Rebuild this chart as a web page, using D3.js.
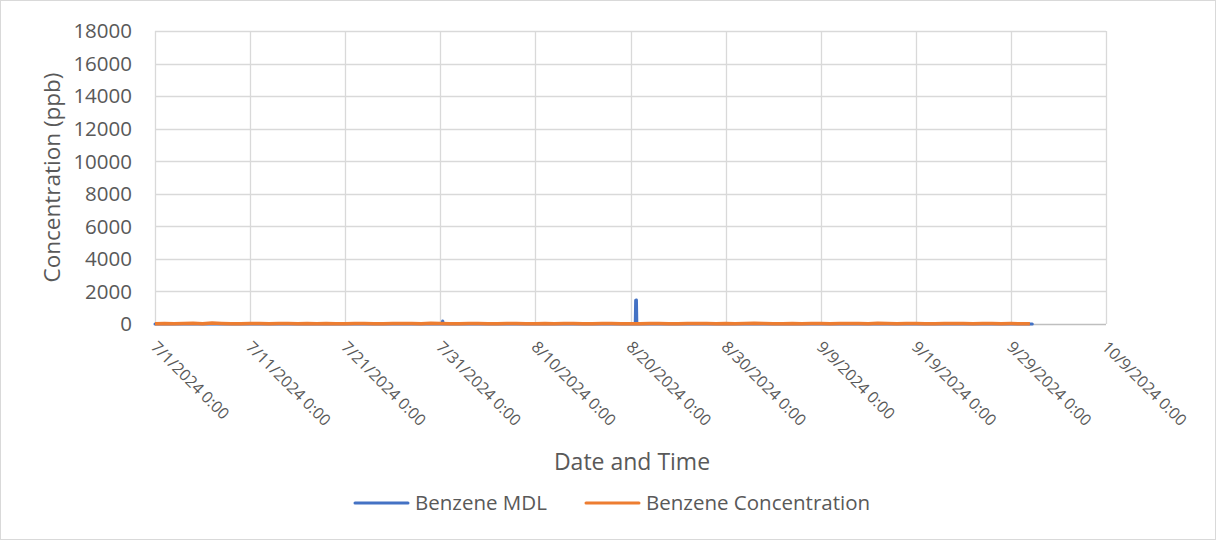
<!DOCTYPE html>
<html>
<head>
<meta charset="utf-8">
<script src="https://cdn.jsdelivr.net/npm/d3@7"></script>
<style>
  body { margin: 0; background: #fff; }
  svg { display: block; font-family: "Open Sans", Lato, sans-serif; }
</style>
</head>
<body>
<svg id="chart" width="1216" height="540"></svg>
<script>
// ---- data ----
const yTicks = [0, 2000, 4000, 6000, 8000, 10000, 12000, 14000, 16000, 18000];
const xTickDates = ["2024-07-01", "2024-07-11", "2024-07-21", "2024-07-31", "2024-08-10",
  "2024-08-20", "2024-08-30", "2024-09-09", "2024-09-19", "2024-09-29", "2024-10-09"];
const xTickLabels = ["7/1/2024 0:00", "7/11/2024 0:00", "7/21/2024 0:00", "7/31/2024 0:00",
  "8/10/2024 0:00", "8/20/2024 0:00", "8/30/2024 0:00", "9/9/2024 0:00", "9/19/2024 0:00",
  "9/29/2024 0:00", "10/9/2024 0:00"];
const seriesNames = ["Benzene MDL", "Benzene Concentration"];

// Benzene MDL (ppb): mostly low, small blip 7/31, spike 8/20
const mdlTimes = ["2024-07-01 00:00", "2024-07-31 04:00", "2024-07-31 06:00", "2024-07-31 08:00",
  "2024-08-20 12:00", "2024-08-20 13:00", "2024-08-20 15:00", "2024-08-20 16:00",
  "2024-10-01 06:00"];
const mdlValues = [5, 5, 190, 5, 5, 1460, 1470, 5, 5];

// Benzene Concentration (ppb), daily readings 7/1 - 10/1
const concStart = "2024-07-01 00:00";
const concValues = [12, 30, 18, 25, 40, 22, 60, 35, 20, 15, 28, 33, 19, 24, 31, 17, 26, 22, 30, 18,
  21, 27, 35, 20, 16, 29, 38, 24, 19, 45, 30, 22, 18, 26, 34, 21, 17, 25, 31, 20,
  23, 28, 19, 35, 27, 16, 22, 30, 25, 18, 14, 20, 26, 33, 21, 17, 29, 36, 24, 19,
  31, 22, 27, 40, 25, 18, 23, 30, 21, 26, 34, 20, 28, 37, 24, 19, 45, 30, 22, 26,
  33, 21, 18, 29, 35, 24, 20, 27, 31, 22, 25, 19, 15];

// ---- chart ----
const svg = d3.select("#chart");
const parse = d3.timeParse("%Y-%m-%d %H:%M");
const parseDay = d3.timeParse("%Y-%m-%d");
const W = 1216, H = 540;
const m = { left: 155, right: 1106, top: 31, bottom: 324 };
const textColor = "#595959";

svg.append("rect").attr("x", 0.5).attr("y", 0.5).attr("width", W - 1).attr("height", H - 1)
  .attr("fill", "#fff").attr("stroke", "#d9d9d9");

const x = d3.scaleTime()
  .domain([parseDay(xTickDates[0]), parseDay(xTickDates[xTickDates.length - 1])])
  .range([m.left, m.right]);
const y = d3.scaleLinear().domain([0, 18000]).range([m.bottom, m.top]);

// gridlines
const g = svg.append("g");
g.selectAll("line.h").data(yTicks.slice(1)).join("line")
  .attr("x1", m.left).attr("x2", m.right)
  .attr("y1", d => Math.round(y(d)) + 0.5).attr("y2", d => Math.round(y(d)) + 0.5)
  .attr("stroke", "#d9d9d9").attr("stroke-width", 1.3);
g.selectAll("line.v").data(xTickDates).join("line")
  .attr("x1", d => Math.round(x(parseDay(d))) + 0.5).attr("x2", d => Math.round(x(parseDay(d))) + 0.5)
  .attr("y1", m.top).attr("y2", m.bottom)
  .attr("stroke", "#d9d9d9").attr("stroke-width", 1.3);
// bottom axis line
g.append("line").attr("x1", m.left).attr("x2", m.right)
  .attr("y1", m.bottom + 0.5).attr("y2", m.bottom + 0.5)
  .attr("stroke", "#bfbfbf").attr("stroke-width", 1.3);

// y tick labels
svg.append("g").selectAll("text").data(yTicks).join("text")
  .attr("x", 132).attr("y", d => y(d)).attr("dy", "0.36em")
  .attr("text-anchor", "end").attr("fill", textColor).attr("font-size", 20.5)
  .text(d => d);

// x tick labels
svg.append("g").selectAll("text").data(xTickDates).join("text")
  .attr("transform", (d) => `translate(${x(parseDay(d)) - 5},${m.bottom + 24}) rotate(45)`)
  .attr("text-anchor", "start")
  .attr("fill", textColor).attr("font-size", 16)
  .text((d, i) => xTickLabels[i]);

// axis titles
svg.append("text").attr("transform", `translate(52,${(m.top + m.bottom) / 2}) rotate(-90)`)
  .attr("text-anchor", "middle").attr("dy", "0.35em").attr("fill", textColor).attr("font-size", 22.5)
  .text("Concentration (ppb)");
svg.append("text").attr("x", 632).attr("y", 462).attr("dy", "0.35em")
  .attr("text-anchor", "middle").attr("fill", textColor).attr("font-size", 23)
  .text("Date and Time");

// lines
const mdl = mdlTimes.map((t, i) => ({ t: parse(t), v: mdlValues[i] }));
const c0 = parse(concStart);
const conc = concValues.map((v, i) => ({ t: d3.timeDay.offset(c0, i), v }));
const line = d3.line().x(d => x(d.t)).y(d => y(d.v));
svg.append("path").datum(mdl).attr("d", line).attr("fill", "none")
  .attr("stroke", "#4472C4").attr("stroke-width", 3).attr("stroke-linejoin", "round").attr("stroke-linecap", "round");
svg.append("path").datum(conc).attr("d", line).attr("fill", "none")
  .attr("stroke", "#ED7D31").attr("stroke-width", 3.5).attr("stroke-linejoin", "round");

// legend
const colors = ["#4472C4", "#ED7D31"];
const legX = [355, 586];
const lg = svg.append("g");
seriesNames.forEach((n, i) => {
  lg.append("line").attr("x1", legX[i]).attr("x2", legX[i] + 53).attr("y1", 503).attr("y2", 503)
    .attr("stroke", colors[i]).attr("stroke-width", 3).attr("stroke-linecap", "round");
  lg.append("text").attr("x", legX[i] + 60).attr("y", 503).attr("dy", "0.35em")
    .attr("fill", textColor).attr("font-size", 20.5).text(n);
});
</script>
</body>
</html>
